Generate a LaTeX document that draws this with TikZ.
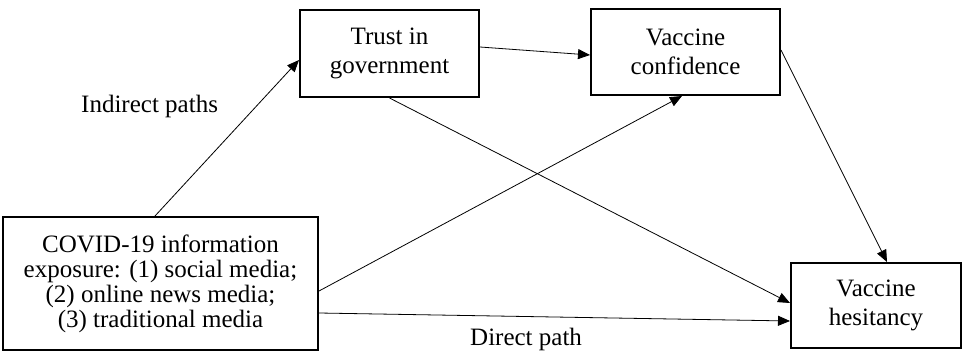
\documentclass[tikz,border=0pt]{standalone}
\usepackage{fontspec}
\setmainfont{Liberation Serif}
\usetikzlibrary{arrows.meta}
\tikzset{
  box/.style={draw, line width=2pt, inner sep=0pt, align=center,
    font=\fontsize{25}{29}\selectfont},
  conn/.style={line width=0.8pt, -{Triangle[length=12pt,width=10pt]}},
  lbl/.style={inner sep=0pt, anchor=base west, font=\fontsize{25}{29}\selectfont}
}
\begin{document}
\begin{tikzpicture}[x=1pt,y=-1pt]
\useasboundingbox (0,0) rectangle (964,353);
\node[box, minimum width=315pt, minimum height=133pt, font=\fontsize{25}{25}\selectfont] (covid) at (160.5,283.5)
  {COVID-19 information\\exposure: (1) social media;\\(2) online news media;\\(3) traditional media};
\node[box, minimum width=179pt, minimum height=87pt] (trust) at (389.5,53.5) {Trust in\\government};
\node[box, minimum width=189pt, minimum height=86pt] (conf) at (685.5,52) {Vaccine\\confidence};
\node[box, minimum width=170pt, minimum height=85pt] (hes) at (876,305.5) {Vaccine\\hesitancy};
\draw[conn] ([xshift=-5.5pt]covid.north) -- ([yshift=-6.5pt]trust.west);
\draw[conn] ([yshift=6.5pt]trust.east) -- ([yshift=-3pt]conf.west);
\draw[conn] (trust.south) -- ([yshift=2.5pt]hes.west);
\draw[conn] ([yshift=-7.5pt]covid.east) -- ([xshift=-3.5pt]conf.south);
\draw[conn] ([yshift=-29.5pt]covid.east) -- ([yshift=-15.5pt]hes.west);
\draw[conn] ([yshift=2pt]conf.east) -- ([xshift=11pt]hes.north);
\node[lbl] (ind) at (81,113) {Indirect paths};
\node[lbl] (dir) at (470,345) {Direct path};
\end{tikzpicture}
\end{document}
